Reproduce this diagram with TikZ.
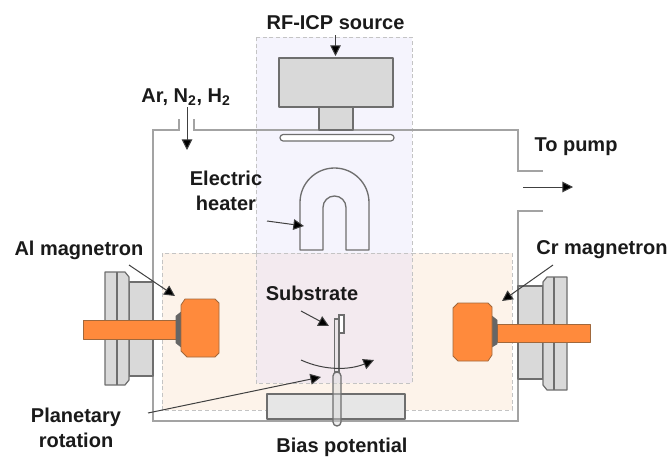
\documentclass[tikz,border=0pt]{standalone}
\usepackage{fontspec}
\setmainfont{Liberation Sans}
\usetikzlibrary{arrows.meta}
\definecolor{wallc}{HTML}{A3A3A3}
\definecolor{edgec}{HTML}{6E6E6E}
\definecolor{greyfill}{HTML}{D9D9D9}
\definecolor{platefill}{HTML}{E6E6E6}
\definecolor{orangec}{HTML}{FF8A3C}
\definecolor{orangeedge}{HTML}{A0683C}
\definecolor{darkc}{HTML}{666666}
\definecolor{bluezone}{HTML}{F5F4FD}
\definecolor{orangezone}{HTML}{FDF3EA}
\definecolor{overlapzone}{HTML}{F3EAEF}
\definecolor{dashc}{HTML}{C4C4C4}
\definecolor{textc}{HTML}{1A1A1A}
\tikzset{
  x=0.75pt,y=-0.75pt,
  zone/.style={draw=dashc,densely dashed,line width=0.7pt},
  wall/.style={draw=wallc,line width=1pt},
  metal/.style={draw=edgec,fill=greyfill,line width=0.9pt,line join=round},
  hot/.style={draw=orangeedge,fill=orangec,line width=0.6pt,line join=round},
  lbl/.style={font=\fontsize{15}{18.75}\selectfont\bfseries,text=textc,inner sep=0pt,align=center},
  pointer/.style={draw=black!75,line width=0.75pt,-{Triangle[length=8pt,width=8pt,fill=black]}},
}
\begin{document}
\begin{tikzpicture}
\useasboundingbox (0,0) rectangle (667,457);
% zones
\fill[white] (0,0) rectangle (667,457);
\draw[zone,fill=orangezone] (162,253) rectangle (512,410);
\draw[zone,fill=bluezone] (256,37) rectangle (412,253);
\draw[zone,fill=overlapzone] (256,253) rectangle (412,383);
% chamber
\draw[wall] (179,119) -- (179,130) -- (153,130) -- (153,421) -- (518,421) -- (518,211) -- (543,211);
\draw[wall] (194,119) -- (194,130) -- (518,130) -- (518,171) -- (543,171);
% RF source
\draw[metal] (279,58) rectangle (393,107);
\draw[metal] (319,107) rectangle (353,130);
\draw[draw=edgec,fill=white,line width=0.9pt,rounded corners=2.4pt] (280,134.5) rectangle (394,141);
% heater
\draw[draw=edgec,fill=none,line width=1pt,line join=round]
  (300,250) -- (300,202.5) arc[start angle=180,end angle=360,radius=34.5] -- (369,250) -- (346,250)
  -- (346,207.5) arc[start angle=0,end angle=-180,radius=11.5] -- (323,250) -- cycle;
% left magnetron
\draw[metal] (129,282) rectangle (153,376);
\draw[metal] (105,272) -- (125,272) -- (129,277) -- (129,380) -- (125,385) -- (105,385) -- cycle;
\draw[draw=edgec,line width=0.9pt] (117,272) -- (117,385);
\draw[hot] (83,320) rectangle (177,339);
\draw[draw=darkc,fill=darkc] (176,320) -- (176,316) -- (181,312) -- (181,347) -- (176,343) -- (176,339) -- cycle;
\draw[hot] (185,299) -- (215,299) -- (219,303) -- (219,353) -- (215,357) -- (187,357) -- (181,351) -- (181,305) -- cycle;
% right magnetron
\draw[metal] (518,286) rectangle (543,379);
\draw[metal] (567,277) -- (547,277) -- (543,282) -- (543,385) -- (547,390) -- (567,390) -- cycle;
\draw[draw=edgec,line width=0.9pt] (554,277) -- (554,390);
\draw[hot] (497,324) rectangle (590,342);
\draw[draw=darkc,fill=darkc] (497,324) -- (497,320) -- (492,316) -- (492,347) -- (497,344) -- (497,342) -- cycle;
\draw[hot] (458,303) -- (488,303) -- (492,307) -- (492,355) -- (488,361) -- (458,361) -- (453,356) -- (453,308) -- cycle;
% bias plate and holder
\draw[metal,fill=platefill] (267,394) rectangle (405,419);
\draw[draw=edgec,fill=greyfill,fill opacity=0.35,line width=0.8pt] (334.5,319) rectangle (339,372);
\draw[draw=edgec,fill=white,line width=0.8pt] (339,315) rectangle (344,333);
\draw[draw=edgec,fill=greyfill,fill opacity=0.45,line width=1pt,rounded corners=3pt] (333,372) -- (341,372) -- (341,426) -- (333,426) -- cycle;
% labels
\node[lbl] (rf) at (335.5,23) {RF-ICP source};
\node[lbl] (gas) at (186,97) {Ar, N\textsubscript{2}, H\textsubscript{2}};
\node[lbl] (pump) at (576,147) {To pump};
\node[lbl] (heat) at (226,191) {Electric\\heater};
\node[lbl] (al) at (79,250) {Al magnetron};
\node[lbl] (cr) at (602,250) {Cr magnetron};
\node[lbl] (sub) at (312,293) {Substrate};
\node[lbl] (plan) at (76,428) {Planetary\\rotation};
\node[lbl] (bias) at (342,447) {Bias potential};
% arrow ends
\coordinate (rfA) at (335.5,35);
\coordinate (rfB) at (335.5,56);
\coordinate (gasA) at (187,107);
\coordinate (gasB) at (187,150);
\coordinate (pumpA) at (523,187);
\coordinate (pumpB) at (573,187);
\coordinate (heatA) at (267,221);
\coordinate (heatB) at (304,226);
\coordinate (alA) at (129,265);
\coordinate (alB) at (175,296);
\coordinate (crA) at (553,265);
\coordinate (crB) at (502,301);
\coordinate (subA) at (301,311);
\coordinate (subB) at (329,326);
\coordinate (planA) at (148,413);
\coordinate (planB) at (321,377);
\coordinate (rotA) at (301,360);
\coordinate (rotB) at (374,360);
\draw[pointer] (rfA) -- (rfB);
\draw[pointer] (gasA) -- (gasB);
\draw[pointer] (pumpA) -- (pumpB);
\draw[pointer] (heatA) -- (heatB);
\draw[pointer] (alA) -- (alB);
\draw[pointer] (crA) -- (crB);
\draw[pointer] (subA) -- (subB);
\draw[pointer] (planA) -- (planB);
\draw[pointer] (rotA) .. controls (325,371) and (350,370) .. (rotB);
\end{tikzpicture}
\end{document}
